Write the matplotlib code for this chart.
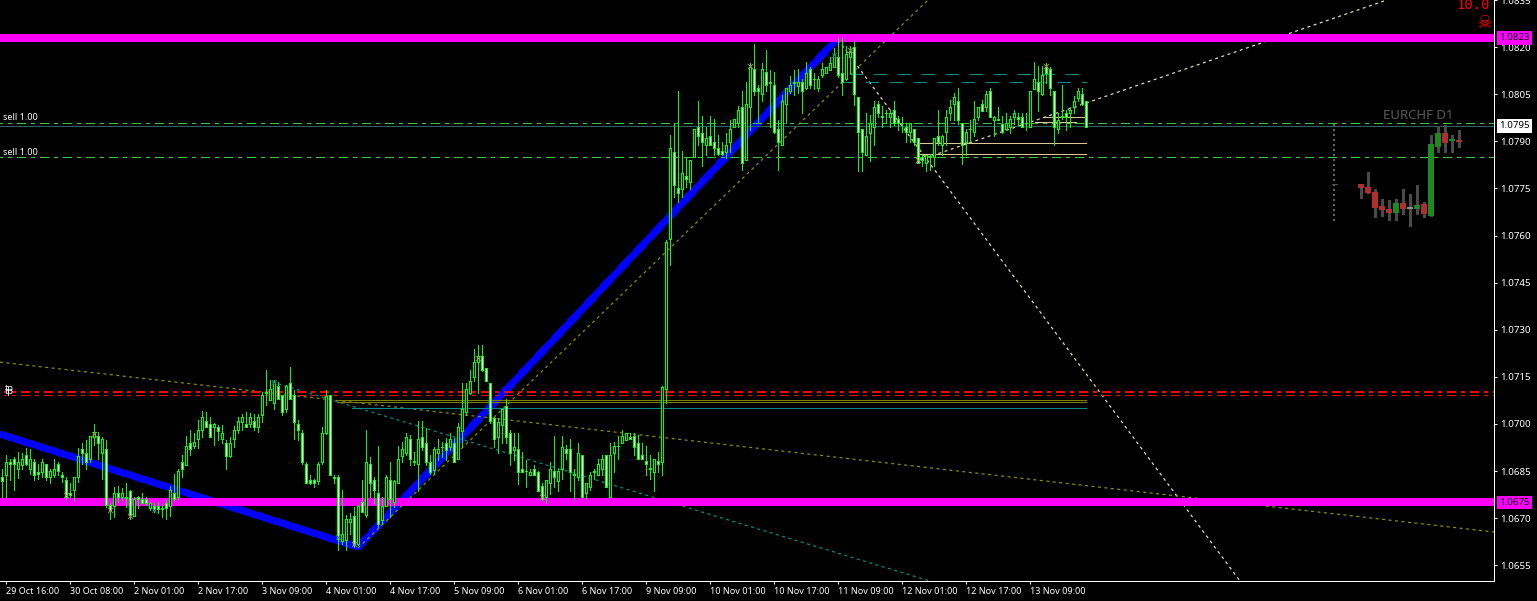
import numpy as np
import matplotlib
matplotlib.use('Agg')
import matplotlib.pyplot as plt

plt.rcParams['font.family'] = ['Noto Sans', 'DejaVu Sans']
plt.rcParams['lines.scale_dashes'] = False
plt.rcParams['lines.antialiased'] = False

# hourly candles, prices in points (1e-5)
highs = [
    106858,106901,106890,106895,106911,106906,106922,106919,106890,106874,
    106887,106874,106858,106890,106880,106848,106832,106811,106832,106922,
    106938,106948,106961,107000,106975,106959,106948,106747,106800,106803,
    106795,106811,106789,106768,106770,106779,106768,106752,106747,106752,
    106742,106757,106802,106840,106858,106901,106961,106980,106970,107012,
    107042,107039,107023,107002,106998,106996,106948,106959,106993,107023,
    107031,107039,107036,107033,107031,107103,107172,107140,107140,107134,
    107092,107124,107180,107108,107012,106980,106880,106837,106826,106880,
    106989,107108,107092,106837,106839,106789,106710,106715,106736,106742,
    106821,106980,106895,106832,106929,106768,106837,106880,106821,106929,
    106943,106970,106964,106911,107009,107009,106986,106901,106927,106951,
    106943,106954,106970,106954,107002,107129,107129,107172,107240,107251,
    107251,107179,107129,107021,107018,107049,107078,106980,106970,106970,
    106911,106885,106858,106869,106850,106811,106821,106880,106961,106858,
    106961,106933,106951,106858,106940,106901,106811,106848,106858,106890,
    106901,106901,106940,106943,106961,106980,106970,106970,106970,106964,
    106940,106929,106901,106890,106911,107120,107586,107920,107958,108061,
    107870,107849,107841,107939,108029,107981,107947,107981,107970,107921,
    107899,107926,107968,107970,108011,108061,108090,108149,108210,108080,
    108149,108191,108128,108122,107968,108048,108069,108108,108128,108130,
    108098,108151,108138,108117,108108,108149,108138,108170,108197,108228,
    108228,108202,108202,108218,108041,107939,107990,107984,108027,108029,
    108011,108000,108000,108029,107981,107977,107958,107958,107939,107910,
    107857,107857,107860,107910,108000,107921,108000,108030,108053,108069,
    107958,107940,107968,108029,108009,108030,108061,108069,107981,108009,
    107981,107990,107981,108000,107990,107990,107990,108061,108151,108140,
    108140,108149,108138,108061,107990,108080,108000,108009,108043,108069,
    108069,108029]
lows = [
    106768,106768,106821,106789,106829,106858,106869,106842,106823,106826,
    106832,106821,106811,106832,106837,106816,106760,106768,106757,106816,
    106874,106858,106880,106933,106890,106826,106736,106699,106704,106752,
    106757,106736,106699,106708,106731,106747,106742,106726,106720,106715,
    106704,106699,106708,106757,106760,106832,106869,106901,106925,106925,
    106959,106989,106959,106933,106948,106938,106856,106895,106927,106970,
    106980,106989,106989,106980,106975,107007,107060,107076,107049,107087,
    107028,107039,107078,106951,106948,106874,106811,106808,106798,106808,
    106874,106967,106837,106811,106598,106619,106598,106651,106609,106614,
    106720,106704,106768,106747,106673,106683,106742,106704,106736,106811,
    106880,106901,106869,106869,106786,106917,106869,106842,106842,106885,
    106895,106885,106917,106880,106890,106927,107028,107097,107137,107099,
    107169,107137,107002,106927,106908,106940,106938,106869,106885,106808,
    106848,106800,106837,106837,106787,106757,106747,106777,106800,106787,
    106826,106890,106787,106760,106821,106768,106760,106789,106826,106837,
    106837,106800,106768,106848,106890,106940,106948,106951,106901,106890,
    106890,106837,106826,106787,106848,106837,107067,107506,107724,107708,
    107724,107756,107747,107849,107889,107820,107857,107889,107857,107857,
    107857,107846,107867,107947,107947,107809,107839,107936,108048,107958,
    108027,108059,107947,107926,107809,107889,107958,108053,108048,108053,
    107990,108066,108069,108066,108059,108106,108119,108128,108138,108106,
    108048,108096,108117,108016,107807,107807,107857,107836,107889,107979,
    107947,107958,107947,107952,107936,107931,107899,107899,107889,107830,
    107820,107807,107809,107820,107889,107857,107889,107968,107968,107956,
    107828,107857,107899,107917,107968,107997,107997,107977,107917,107968,
    107926,107936,107926,107956,107952,107947,107936,107947,108066,107998,
    108048,108085,108048,107889,107928,107970,107936,107947,107990,108027,
    108016,107947]
body_tops = [
    106830,106880,106880,106889,106880,106889,106900,106890,106880,106848,
    106880,106871,106850,106858,106871,106839,106821,106779,106830,106899,
    106919,106909,106961,106975,106961,106951,106919,106742,106779,106779,
    106779,106766,106787,106761,106768,106760,106760,106749,106739,106739,
    106731,106749,106789,106779,106850,106880,106929,106940,106942,106980,
    107021,107009,107000,107000,106989,106970,106941,106941,106980,107009,
    107021,107000,107021,107009,107021,107092,107103,107111,107134,107122,
    107092,107120,107129,107092,107000,106970,106871,106821,106821,106871,
    106970,107089,107092,106830,106830,106651,106699,106699,106708,106739,
    106750,106880,106871,106821,106779,106739,106830,106821,106819,106890,
    106919,106959,106951,106882,106951,106959,106940,106880,106919,106919,
    106928,106940,106951,106940,106989,107049,107110,107137,107198,107216,
    107216,107179,107129,107020,107007,107049,107058,106970,106927,106919,
    106858,106851,106848,106858,106848,106802,106821,106858,106850,106850,
    106927,106919,106919,106840,106908,106900,106811,106839,106849,106871,
    106890,106900,106900,106929,106931,106961,106970,106959,106961,106940,
    106900,106882,106859,106890,106882,107118,107580,107879,107867,107751,
    107798,107788,107839,107939,107947,107928,107910,107918,107899,107878,
    107869,107889,107939,107970,108000,108008,108019,108138,108130,108069,
    108130,108120,108089,108080,107939,108029,108069,108080,108089,108090,
    108088,108119,108130,108099,108098,108130,108138,108149,108179,108168,
    108119,108179,108186,108200,108041,107939,107918,107958,108009,108019,
    107980,107991,107990,108000,107970,107959,107947,107958,107939,107910,
    107849,107857,107853,107910,107918,107918,107979,108009,108041,108029,
    107958,107929,107940,107970,108009,108019,108051,108061,107979,107971,
    107956,107958,107970,107990,107979,107979,107959,108061,108098,108088,
    108112,108138,108130,108059,107968,107980,107990,108000,108029,108061,
    108050,108027]
body_bottoms = [
    106819,106839,106871,106872,106858,106869,106871,106858,106839,106840,
    106848,106830,106830,106839,106850,106830,106768,106773,106789,106830,
    106909,106880,106889,106959,106940,106909,106742,106726,106739,106768,
    106768,106763,106710,106708,106760,106749,106749,106731,106726,106729,
    106729,106731,106739,106761,106768,106858,106869,106919,106929,106951,
    106980,106989,106959,106989,106978,106951,106899,106899,106951,106980,
    107007,106989,107000,106989,106989,107028,107100,107076,107067,107081,
    107039,107049,107078,107007,106980,106880,106811,106811,106811,106819,
    106880,106970,106839,106828,106633,106628,106630,106688,106614,106619,
    106720,106710,106811,106789,106680,106694,106739,106760,106752,106811,
    106899,106908,106889,106880,106871,106927,106880,106848,106855,106908,
    106926,106917,106927,106880,106890,106978,107039,107100,107148,107198,
    107171,107137,107009,106951,106959,106998,106959,106908,106917,106848,
    106848,106849,106839,106839,106787,106760,106768,106811,106830,106819,
    106858,106908,106848,106838,106830,106768,106779,106800,106847,106839,
    106858,106800,106768,106908,106929,106940,106948,106951,106927,106890,
    106890,106871,106857,106848,106871,106880,107111,107589,107761,107737,
    107747,107779,107769,107849,107918,107899,107889,107889,107878,107859,
    107859,107867,107899,107947,107958,107830,107839,108009,108059,108059,
    108050,108078,108087,107929,107899,107889,108019,108059,108087,108077,
    108059,108069,108078,108097,108069,108110,108119,108128,108138,108110,
    108088,108098,108168,108050,107929,107867,107857,107928,107947,107990,
    107978,107989,107979,107958,107958,107957,107929,107929,107899,107830,
    107839,107830,107851,107849,107899,107889,107929,107990,108019,107968,
    107889,107899,107938,107929,107979,107998,108009,107979,107968,107969,
    107929,107939,107947,107979,107970,107947,107957,107947,108068,108059,
    108050,108119,108069,107947,107939,107978,107979,107990,108008,108039,
    108018,107947]
# U = close above open (hollow), D = close below open (white)
directions = (
    "DUDDUUDUDD" "UDUUDDDDUU" "DDUUDUDDUD" "UDDUDDDUDD" "DDUDUDUDUU"
    "UDDUDUDUUU" "UDUDUUUUUD" "DUDDDDDDDU" "UUDDDUUUDU" "DUDDDUUDUU"
    "UUDDUDDDUU" "DDUDUUUUUU" "DDDDUUDDUD" "DDUDDDUUDU" "UDDDUDUUUU"
    "UDUUUUUDDD" "DDDUDUUUDD" "UDUUDDUDDD" "DUUUUDUUDD" "UDDDDUUUDU"
    "DUDDUUUUUD" "DUUDDDUUUD" "DDUDDDDUDD" "DUDUDUUUUD" "DUDUUDUDUD"
    "DUUUDDDUUD" "UDDDUDDUUU" "DD")

# daily mini chart
d1_highs = [107764,107802,107748,107716,107713,107716,107748,107732,107761,107707,107920,107949,107952,107920,107936]
d1_lows = [107720,107736,107660,107663,107650,107650,107669,107631,107669,107660,107662,107866,107866,107866,107882]
d1_tops = [107764,107754,107738,107694,107684,107703,107703,107691,107697,107700,107891,107926,107926,107907,107904]
d1_bottoms = [107751,107736,107689,107682,107673,107673,107684,107685,107684,107669,107662,107882,107895,107901,107898]
d1_directions = "DDDDDUD-UDUUDUD"

# bar index of each time label
time_labels = ['29 Oct 16:00', '30 Oct 08:00', '2 Nov 01:00', '2 Nov 17:00', '3 Nov 09:00',
               '4 Nov 01:00', '4 Nov 17:00', '5 Nov 09:00', '6 Nov 01:00', '6 Nov 17:00',
               '9 Nov 09:00', '10 Nov 01:00', '10 Nov 17:00', '11 Nov 09:00', '12 Nov 01:00',
               '12 Nov 17:00', '13 Nov 09:00']
price_ticks = [1.0655, 1.0670, 1.0685, 1.0700, 1.0715, 1.0730, 1.0745, 1.0760, 1.0775,
               1.0790, 1.0805, 1.0820, 1.0835]

zigzag_x = [-0.5, 89, 209]
zigzag_y = [106968, 106608, 108229]
support_levels = [1.0823, 1.0675]
sell_levels = [107958, 107849]
tp_levels = [107101, 107091]

# trend lines, (bar, points) at each end
wheat_lines = [((209, 309.5), (108223, 106500)), ((229.5, 346.25), (107841, 108350))]
olive_lines = [((89, 231.5), (106605, 108350)), ((-0.5, 373), (107197, 106656))]
teal_line = ((67.5, 232), (107134, 106500))

# short segments: price, first bar, last bar
tan_segments = [(107894, 229.5, 271), (107859, 229.5, 271), (107977, 260.5, 271), (107961, 258.25, 268.5)]
olive_segments = [(107076, 83.7, 271), (107070, 83.7, 271)]
teal_segments = [(107051, 87.5, 271)]
teal_dashes = [(108115, 212, 270.5), (108090, 210, 271)]

mark_x = [23, 16, 27, 32, 119, 135, 187, 212, 229, 261, 88]
mark_y = [106968, 106773, 106726, 106706, 107209, 106768, 108140, 108191, 107839, 108140, 106617]
mark2_x = [38, 68, 84, 208]
mark2_y = [106726, 107134, 106641, 108175]

PX = 0.72  # one pixel in points at dpi 100

fig = plt.figure(figsize=(15.37, 6.01), dpi=100, facecolor='black')
ax = fig.add_axes([0, 20 / 601, 1494 / 1537, 581 / 601], facecolor='black')
ax.set_xlim(-0.5, 373)
ax.set_ylim(1.0650, 1.08350)


def pts(v):
    return np.asarray(v) / 1e5


x = np.arange(len(highs))

# lines under the candles
ax.plot(zigzag_x, pts(zigzag_y), color='#0000ff', lw=6 * PX, zorder=1, solid_capstyle='butt')
dots = (0, (3 * PX, 3.5 * PX))
for xs, ys in wheat_lines:
    ax.plot(xs, pts(ys), color='#f5deb3', lw=1.2 * PX, ls=dots, zorder=2, antialiased=True, dash_capstyle='butt')
for xs, ys in olive_lines:
    ax.plot(xs, pts(ys), color='#909000', lw=1.2 * PX, ls=dots, zorder=2, antialiased=True, dash_capstyle='butt')
ax.plot(teal_line[0], pts(teal_line[1]), color='#009090', lw=1.2 * PX, ls=dots, zorder=2, antialiased=True,
        dash_capstyle='butt')

dash_dot = (0, (9 * PX, 5.5 * PX, 3 * PX, 5.5 * PX))
for level in sell_levels:
    ax.axhline(level / 1e5, color='#32cd32', lw=PX, ls=(6 * PX, dash_dot[1]), zorder=2)
ax.axhline(tp_levels[0] / 1e5, xmin=4 / 1494, color='#ff0000', lw=1.6 * PX, ls=(6 * PX, dash_dot[1]), zorder=2)
ax.axhline(tp_levels[1] / 1e5, xmin=4 / 1494, color='#ff0000', lw=PX, ls=(6 * PX, dash_dot[1]), zorder=2)
ax.axhline(1.07949, color='#2f5f5f', lw=PX, zorder=2)

for p, x0, x1 in tan_segments:
    ax.plot([x0, x1], [p / 1e5, p / 1e5], color='#dfc39a', lw=PX, zorder=2)
for p, x0, x1 in olive_segments:
    ax.plot([x0, x1], [p / 1e5, p / 1e5], color='#808000', lw=PX, zorder=2)
for p, x0, x1 in teal_segments:
    ax.plot([x0, x1], [p / 1e5, p / 1e5], color='#008b8b', lw=PX, zorder=2)
for p, x0, x1 in teal_dashes:
    ax.plot([x0, x1], [p / 1e5, p / 1e5], color='#008b8b', lw=PX, ls=(0, (13 * PX, 11 * PX)), zorder=2)

for level in support_levels:
    ax.axhline(level, color='#ff00ff', lw=8 * PX, zorder=3)

# candles
ax.vlines(x, pts(lows), pts(highs), color='#00ff00', lw=PX, zorder=4, antialiased=False)
fills = ['white' if d == 'D' else 'black' for d in directions]
ax.bar(x, pts(body_tops) - pts(body_bottoms), bottom=pts(body_bottoms), width=0.5, color=fills,
       edgecolor='#00ff00', linewidth=PX, zorder=5, antialiased=False)

ax.scatter(mark_x, pts(mark_y), marker='x', s=12, color='#a8906c', linewidths=PX, zorder=6)
ax.scatter(mark2_x, pts(mark2_y), marker='x', s=12, color='#1f7070', linewidths=PX, zorder=6)

# daily mini chart on the right
d1_x = 339.75 + 1.75 * np.arange(len(d1_highs))
ax.vlines(d1_x, pts(d1_lows), pts(d1_highs), color='#4a4a4a', lw=1.4 * PX, zorder=4, antialiased=False)
d1_colors = {'D': '#b22d2d', 'U': '#1f8a1f', '-': '#909090'}
ax.bar(d1_x, np.maximum(pts(d1_tops) - pts(d1_bottoms), 0.00006), bottom=pts(d1_bottoms), width=1.4,
       color=[d1_colors[d] for d in d1_directions], linewidth=0, zorder=5, antialiased=False)
ax.plot([333.1, 333.1], [1.07955, 1.07643], color='#666666', lw=1.6 * PX, ls=(0, (2 * PX, 4 * PX)), zorder=4)
ax.plot([332.4, 333.8], [1.07764, 1.07764], color='#555555', lw=PX, zorder=4)

ax.text(1383 / 4 - 0.5, 1.07960, 'EURCHF D1', color='#5a5a5a', fontsize=9.5, va='bottom', ha='left', zorder=7)
ax.text(1490 / 4 - 0.5, 1.08321, '10.0', color='#ff0000', fontsize=10, va='baseline', ha='right',
        family='DejaVu Sans Mono', zorder=7)
ax.text(1484.5 / 4 - 0.5, 1.08278, '\u2620', color='#ff0000', fontsize=13, va='center', ha='center',
        family='DejaVu Sans', zorder=7)
for level in sell_levels:
    ax.text(0.2, level / 1e5 + 0.00002, 'sell 1.00', color='white', fontsize=6.5, va='bottom', ha='left', zorder=7)
for level in tp_levels:
    ax.text(0.6, level / 1e5 - 0.00002, 'tp', color='white', fontsize=6.5, va='bottom', ha='left', zorder=7)

# axes
for side in ['top', 'left']:
    ax.spines[side].set_visible(False)
for side in ['right', 'bottom']:
    ax.spines[side].set_color('white')
    ax.spines[side].set_linewidth(PX)
ax.yaxis.tick_right()
ax.set_yticks(price_ticks)
ax.set_yticklabels(['%.4f' % p for p in price_ticks], color='white', fontsize=7)
ax.tick_params(axis='y', length=3 * PX, width=PX, color='white', pad=2)
ax.set_xticks(1 + 16 * np.arange(len(time_labels)))
ax.set_xticklabels(time_labels, color='white', fontsize=6.5, ha='left')
ax.tick_params(axis='x', length=3 * PX, width=PX, color='white', pad=2.5)

# price boxes on the axis
ytrans = ax.get_yaxis_transform()
box_x = 1 + 5 / 1494
for p, txt, bg in [(1.0823, '1.0823', '#ff00ff'), (1.0675, '1.0675', '#ff00ff'), (1.07949, '1.0795', 'white')]:
    ax.text(box_x, p, txt, transform=ytrans, color='black', fontsize=7, va='center', ha='left', zorder=8,
            clip_on=False, bbox=dict(boxstyle='square,pad=0.25', fc=bg, ec='none'))

fig.savefig('out.png', dpi=100, facecolor='black')
